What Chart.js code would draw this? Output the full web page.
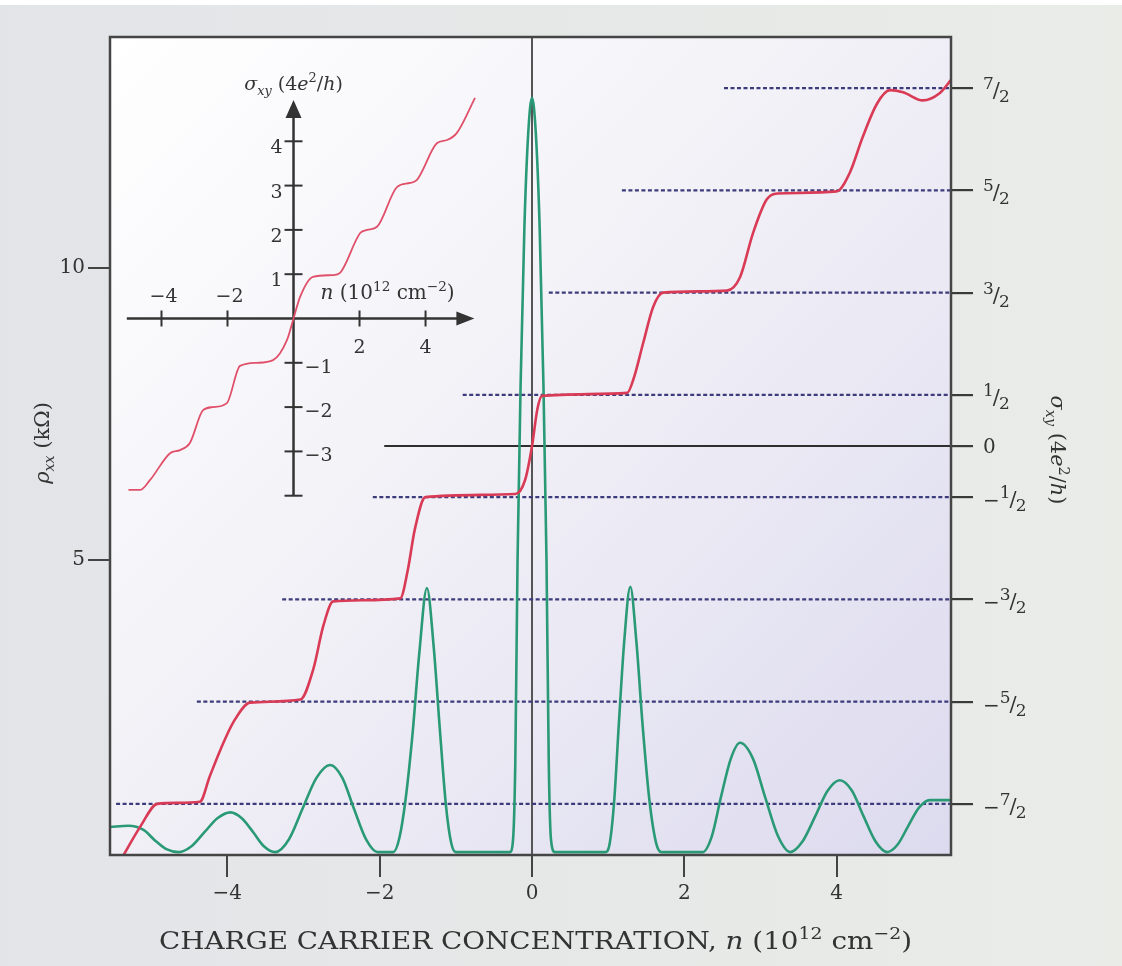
<!DOCTYPE html>
<html>
<head>
<meta charset="utf-8">
<style>
  html, body { margin: 0; padding: 0; background: #e7e8e8; }
  #wrap { width: 1122px; height: 966px; }
</style>
</head>
<body>
<div id="wrap"><canvas id="chart" width="1122" height="966"></canvas></div>
<script src="https://cdn.jsdelivr.net/npm/chart.js@4.4.0/dist/chart.umd.min.js"></script>
<script>
// --- data ---

// rho_xx (kOhm) against n (10^12 cm^-2), green trace
const rhoN = [-5.54, -5.30, -5.10, -4.95, -4.80, -4.64, -4.47, -4.30, -4.13, -3.96, -3.81, -3.66, -3.52, -3.37,
  -3.19, -3.01, -2.83, -2.65, -2.49, -2.34, -2.18, -2.03,
  -1.82, -1.74, -1.66, -1.57, -1.48, -1.38, -1.29, -1.21, -1.13, -1.06, -1.00,
  -0.29, -0.25, -0.22, -0.19, -0.15, -0.10, -0.05, 0, 0.05, 0.10, 0.15, 0.19, 0.22, 0.25, 0.30,
  0.96, 1.02, 1.08, 1.14, 1.21, 1.29, 1.37, 1.45, 1.54, 1.63, 1.70,
  2.24, 2.36, 2.48, 2.61, 2.73, 2.90, 3.06, 3.23, 3.39,
  3.55, 3.72, 3.88, 4.04, 4.20, 4.35, 4.51, 4.66, 4.80, 4.94, 5.08, 5.22, 5.50];
const rhoK = [0.43, 0.45, 0.38, 0.20, 0.05, 0, 0.10, 0.34, 0.58, 0.68, 0.58, 0.34, 0.10, 0,
  0.22, 0.75, 1.27, 1.49, 1.27, 0.75, 0.22, 0,
  0, 0.25, 0.90, 2.0, 3.4, 4.52, 3.5, 2.1, 0.80, 0.15, 0,
  0, 0.2, 1.5, 5.0, 8.0, 10.7, 12.3, 12.91, 12.3, 10.7, 8.0, 5.0, 1.5, 0.2, 0,
  0, 0.15, 0.90, 2.2, 3.6, 4.54, 3.6, 2.2, 0.90, 0.15, 0,
  0, 0.27, 0.94, 1.60, 1.87, 1.60, 0.94, 0.27, 0,
  0.18, 0.62, 1.05, 1.23, 1.05, 0.62, 0.18, 0, 0.13, 0.45, 0.76, 0.89, 0.89];

// sigma_xy (4e^2/h) against n, red trace
const sigmaN = [-5.40, -5.14, -4.92, -4.66, -4.36, -4.23, -4.09, -3.92, -3.70, -3.04, -2.87, -2.74, -2.61,
  -1.73, -1.63, -1.54, -1.40, -0.22, -0.09, 0, 0.07, 0.13, 1.25, 1.33, 1.46, 1.59, 1.72,
  2.56, 2.73, 2.90, 3.08, 3.22, 4.00, 4.17, 4.34, 4.53, 4.70, 4.87, 5.13, 5.35, 5.50];
const sigmaV = [-4.05, -3.72, -3.50, -3.49, -3.48, -3.23, -2.97, -2.70, -2.51, -2.48, -2.18, -1.76, -1.52,
  -1.49, -1.21, -0.82, -0.50, -0.47, -0.33, 0, 0.36, 0.49, 0.52, 0.65, 1.01, 1.36, 1.50,
  1.52, 1.65, 2.08, 2.41, 2.47, 2.49, 2.67, 3.02, 3.35, 3.48, 3.46, 3.38, 3.45, 3.58];

// inset: sigma_xy (4e^2/h) against n
const insetN = [-5.0, -4.65, -4.35, -3.74, -3.44, -3.14, -2.74, -2.44, -2.02, -1.62, -1.11, -0.62, -0.2, 0,
  0.2, 0.59, 1.2, 1.41, 2.02, 2.23, 2.53, 3.14, 3.53, 3.74, 4.35, 4.65, 4.95, 5.5];
const insetSigma = [-3.87, -3.87, -3.65, -3.04, -2.97, -2.81, -2.07, -2.0, -1.91, -1.07, -1.0, -0.94, -0.49, 0,
  0.49, 0.94, 0.98, 1.03, 1.93, 2.0, 2.07, 2.97, 3.06, 3.13, 3.96, 4.03, 4.19, 4.98];

// quantised levels and where each guide line begins
const levelValues = [3.5, 2.5, 1.5, 0.5, 0, -0.5, -1.5, -2.5, -3.5];
const levelStarts = [2.52, 1.18, 0.22, -0.91, -1.94, -2.09, -3.28, -4.40, -5.46];

// ticks
const xTicks = [-4, -2, 0, 2, 4];
const leftTicks = [5, 10];
const rightTicks = [3.5, 2.5, 1.5, 0.5, 0, -0.5, -1.5, -2.5, -3.5];
const rightLabels = ['7/2', '5/2', '3/2', '1/2', '0', '−1/2', '−3/2', '−5/2', '−7/2'];
const insetXTicks = [-4, -2, 2, 4];
const insetXLabels = ['−4', '−2', '2', '4'];
const insetYTicks = [4, 3, 2, 1, -1, -2, -3, -4];
const insetYLabels = ['4', '3', '2', '1', '−1', '−2', '−3', ''];

// axis ranges
const xMin = -5.54, xMax = 5.50;
const rhoMin = -0.05, rhoMax = 13.95;
const sigMin = -4.0, sigMax = 4.0;
const insetXMin = -5.56, insetXMax = 19.92;
const insetYMin = -12.11, insetYMax = 6.354;
const insetAxisX = [-5.05, 5.48];
const insetAxisY = [-4, 4.93];

// titles, as rich text segments
const xTitle = [{t: 'CHARGE CARRIER CONCENTRATION, '}, {t: 'n', it: 1}, {t: ' (10'}, {t: '12', sup: 1}, {t: ' cm'}, {t: '−2', sup: 1}, {t: ')'}];
const leftTitle = [{t: 'ρ', it: 1}, {t: 'xx', it: 1, sub: 1}, {t: ' (kΩ)'}];
const sigmaTitle = [{t: 'σ', it: 1}, {t: 'xy', it: 1, sub: 1}, {t: ' (4'}, {t: 'e', it: 1}, {t: '2', sup: 1}, {t: '/'}, {t: 'h', it: 1}, {t: ')'}];
const insetXTitle = [{t: 'n', it: 1}, {t: ' (10'}, {t: '12', sup: 1}, {t: ' cm'}, {t: '−2', sup: 1}, {t: ')'}];

const SERIF = '"DejaVu Serif", "Liberation Serif", serif';
const INK = '#333333';
const RED = '#d93a55';
const GREEN = '#2a9a76';
const GUIDE = '#3c3c7c';

const pts = (xs, ys) => xs.map((x, i) => ({x: x, y: ys[i]}));

// --- rich text helpers ---
function richParts(ctx, segs, size) {
    return segs.map(s => {
        const sz = (s.sub || s.sup) ? size * 0.68 : size;
        const font = (s.it ? 'italic ' : '') + sz.toFixed(1) + 'px ' + SERIF;
        ctx.font = font;
        return { t: s.t, font: font, w: ctx.measureText(s.t).width, dy: s.sup ? -size * 0.4 : (s.sub ? size * 0.24 : 0) };
    });
}
function drawRich(ctx, segs, size, x, y, align) {
    const parts = richParts(ctx, segs, size);
    const total = parts.reduce((a, p) => a + p.w, 0);
    let cx = align === 'center' ? x - total / 2 : (align === 'right' ? x - total : x);
    ctx.textAlign = 'left';
    ctx.textBaseline = 'alphabetic';
    parts.forEach(p => { ctx.font = p.font; ctx.fillText(p.t, cx, y + p.dy); cx += p.w; });
    return total;
}
function drawFraction(ctx, label, x, y) {
    ctx.textAlign = 'left';
    ctx.textBaseline = 'alphabetic';
    let cx = x, s = label;
    if (s.startsWith('−')) {
        ctx.font = '20px ' + SERIF;
        ctx.fillText('−', cx, y + 10);
        cx += ctx.measureText('−').width;
        s = s.slice(1);
    }
    if (s.indexOf('/') < 0) {
        ctx.font = '20px ' + SERIF;
        ctx.fillText(s, cx, y + 7);
        return;
    }
    const [num, den] = s.split('/');
    ctx.font = '17px ' + SERIF;
    ctx.fillText(num, cx, y + 1);
    cx += ctx.measureText(num).width - 1;
    ctx.font = '21px ' + SERIF;
    ctx.fillText('/', cx, y + 9);
    cx += ctx.measureText('/').width - 1;
    ctx.font = '17px ' + SERIF;
    ctx.fillText(den, cx, y + 14);
}

// --- plugins ---
const backdrop = {
    id: 'backdrop',
    beforeDraw(chart) {
        const {ctx, width, height, chartArea: a} = chart;
        ctx.save();
        let g = ctx.createLinearGradient(0, 0, width, 0);
        g.addColorStop(0, '#e3e4e8');
        g.addColorStop(1, '#e9ece7');
        ctx.fillStyle = g;
        ctx.fillRect(0, 0, width, height);
        ctx.fillStyle = '#ffffff';
        ctx.fillRect(0, 0, width, 5);
        g = ctx.createLinearGradient(a.left, a.top, a.right, a.bottom);
        g.addColorStop(0, '#ffffff');
        g.addColorStop(0.45, '#f2f1f7');
        g.addColorStop(1, '#dcdaee');
        ctx.fillStyle = g;
        ctx.fillRect(a.left, a.top, a.right - a.left, a.bottom - a.top);
        ctx.restore();
    }
};

const inset = {
    id: 'inset',
    beforeDatasetsDraw(chart) {
        const ctx = chart.ctx;
        const sx = chart.scales.xInset, sy = chart.scales.yInset;
        const x0 = sx.getPixelForValue(0), y0 = sy.getPixelForValue(0);
        const xl = sx.getPixelForValue(insetAxisX[0]), xr = sx.getPixelForValue(insetAxisX[1]);
        const yb = sy.getPixelForValue(insetAxisY[0]), yt = sy.getPixelForValue(insetAxisY[1]);
        const line = (a, b, c, d) => { ctx.beginPath(); ctx.moveTo(a, b); ctx.lineTo(c, d); ctx.stroke(); };
        ctx.save();
        ctx.strokeStyle = INK;
        ctx.fillStyle = INK;
        ctx.lineWidth = 2.5;
        line(xl, y0, xr - 12, y0);
        line(x0, yb, x0, yt + 12);
        // arrow heads
        ctx.beginPath(); ctx.moveTo(xr, y0); ctx.lineTo(xr - 18, y0 - 7); ctx.lineTo(xr - 18, y0 + 7); ctx.closePath(); ctx.fill();
        ctx.beginPath(); ctx.moveTo(x0, yt); ctx.lineTo(x0 - 8, yt + 18); ctx.lineTo(x0 + 8, yt + 18); ctx.closePath(); ctx.fill();
        ctx.lineWidth = 2;
        insetXTicks.forEach((v, i) => {
            const px = sx.getPixelForValue(v);
            line(px, y0 - 8, px, y0 + 8);
            ctx.font = '19px ' + SERIF;
            ctx.textAlign = 'center';
            ctx.textBaseline = 'alphabetic';
            ctx.fillText(insetXLabels[i], px + (v < 0 ? 2 : 0), v < 0 ? y0 - 16 : y0 + 35);
        });
        insetYTicks.forEach((v, i) => {
            const py = sy.getPixelForValue(v);
            line(x0 - 9, py, x0 + 9, py);
            ctx.font = '19px ' + SERIF;
            ctx.textBaseline = 'alphabetic';
            if (v > 0) { ctx.textAlign = 'right'; ctx.fillText(insetYLabels[i], x0 - 11, py + 12); }
            else { ctx.textAlign = 'left'; ctx.fillText(insetYLabels[i], x0 + 11, py + 10); }
        });
        drawRich(ctx, sigmaTitle, 19, x0, yt - 10, 'center');
        drawRich(ctx, insetXTitle, 20, x0 + 27, y0 - 19, 'left');
        ctx.restore();
    }
};

const frameAndText = {
    id: 'frameAndText',
    afterDraw(chart) {
        const {ctx, chartArea: a} = chart;
        const y2 = chart.scales.y2;
        ctx.save();
        ctx.strokeStyle = '#454545';
        ctx.lineWidth = 2.5;
        ctx.strokeRect(a.left, a.top, a.right - a.left, a.bottom - a.top);
        ctx.fillStyle = INK;
        rightTicks.forEach((v, i) => drawFraction(ctx, rightLabels[i], a.right + 32, y2.getPixelForValue(v)));
        // bottom title, stretched to the width it has in the figure
        const parts = richParts(ctx, xTitle, 25);
        const w = parts.reduce((s, p) => s + p.w, 0);
        ctx.save();
        ctx.translate((a.left + a.right) / 2 + 5, 949);
        ctx.scale(753 / w, 1);
        drawRich(ctx, xTitle, 25, 0, 0, 'center');
        ctx.restore();
        // side titles
        ctx.save();
        ctx.translate(42, 443);
        ctx.rotate(-Math.PI / 2);
        drawRich(ctx, leftTitle, 21, 0, 7, 'center');
        ctx.restore();
        ctx.save();
        ctx.translate(a.right + 107, 450);
        ctx.rotate(Math.PI / 2);
        drawRich(ctx, sigmaTitle, 21, 0, 7, 'center');
        ctx.restore();
        ctx.restore();
    }
};

// --- datasets ---
const datasets = [
    { data: pts(sigmaN, sigmaV), xAxisID: 'x', yAxisID: 'y2', borderColor: RED, borderWidth: 2.6, cubicInterpolationMode: 'monotone' },
    { data: pts(rhoN, rhoK), xAxisID: 'x', yAxisID: 'y', borderColor: GREEN, borderWidth: 2.6, cubicInterpolationMode: 'monotone' },
    { data: pts(insetN, insetSigma), xAxisID: 'xInset', yAxisID: 'yInset', borderColor: '#e0506a', borderWidth: 1.8, cubicInterpolationMode: 'monotone' }
];
levelValues.forEach((v, i) => {
    datasets.push({
        data: [{x: levelStarts[i], y: v}, {x: xMax, y: v}],
        xAxisID: 'x', yAxisID: 'y2',
        borderColor: v === 0 ? '#2e2e2e' : GUIDE,
        borderWidth: v === 0 ? 2 : 2.2,
        borderDash: v === 0 ? [] : [4, 2.5]
    });
});

const tickFont = { family: SERIF, size: 20 };

new Chart(document.getElementById('chart'), {
    type: 'line',
    data: { datasets: datasets },
    options: {
        responsive: false,
        devicePixelRatio: 1,
        animation: false,
        layout: { padding: { top: 37, left: 0, right: 0, bottom: 0 } },
        elements: { point: { radius: 0 }, line: { fill: false } },
        plugins: { legend: { display: false }, tooltip: { enabled: false } },
        scales: {
            x: {
                type: 'linear', position: 'bottom', min: xMin, max: xMax,
                afterBuildTicks: s => { s.ticks = xTicks.map(v => ({value: v})); },
                afterFit: s => { s.height = 111; },
                grid: {
                    color: c => (c.tick && c.tick.value === 0) ? '#555555' : 'rgba(0,0,0,0)',
                    tickColor: '#444444', lineWidth: 2, tickLength: 22
                },
                border: { display: false },
                ticks: { autoSkip: false, maxRotation: 0, padding: 5, color: INK, font: tickFont,
                    callback: v => v < 0 ? '−' + (-v) : String(v) }
            },
            y: {
                type: 'linear', position: 'left', min: rhoMin, max: rhoMax,
                afterBuildTicks: s => { s.ticks = leftTicks.map(v => ({value: v})); },
                afterFit: s => { s.width = 110; },
                grid: { drawOnChartArea: false, tickColor: '#444444', lineWidth: 2, tickLength: 22 },
                border: { display: false },
                ticks: { autoSkip: false, padding: 3, color: INK, font: tickFont }
            },
            y2: {
                type: 'linear', position: 'right', min: sigMin, max: sigMax,
                afterBuildTicks: s => { s.ticks = rightTicks.map(v => ({value: v})); },
                afterFit: s => { s.width = 171; },
                grid: { drawOnChartArea: false, tickColor: '#3a3a3a', lineWidth: 2.2, tickLength: 22 },
                border: { display: false },
                ticks: { autoSkip: false, color: INK, font: tickFont, callback: () => '' }
            },
            xInset: { type: 'linear', axis: 'x', position: 'bottom', display: false, min: insetXMin, max: insetXMax },
            yInset: { type: 'linear', axis: 'y', position: 'left', display: false, min: insetYMin, max: insetYMax }
        }
    },
    plugins: [backdrop, inset, frameAndText]
});
</script>
</body>
</html>
